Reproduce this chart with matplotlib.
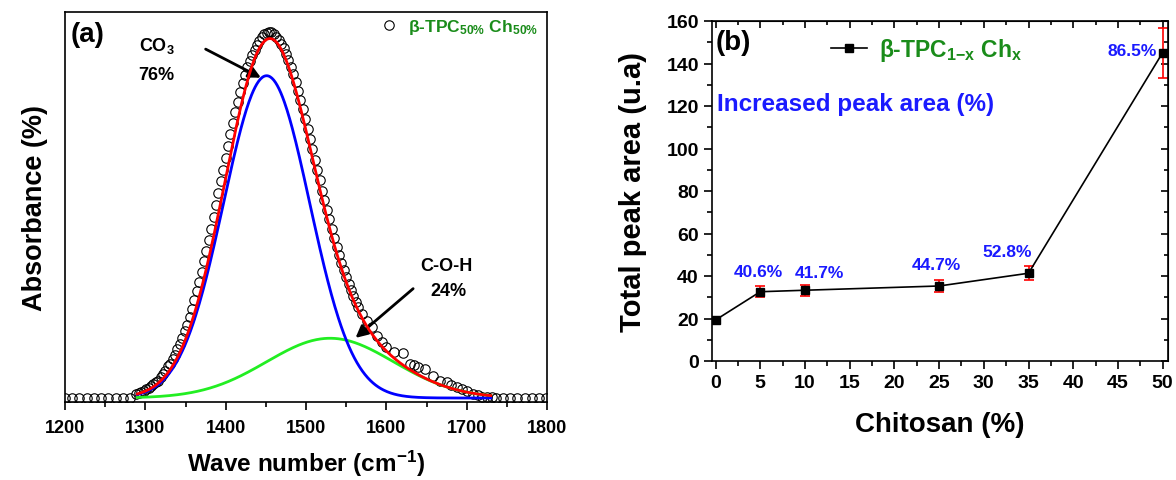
import numpy as np
import matplotlib
matplotlib.use("Agg")
import matplotlib.pyplot as plt
from matplotlib.ticker import MultipleLocator
from matplotlib.lines import Line2D

plt.rcParams['font.family'] = ['Liberation Sans', 'DejaVu Sans']
plt.rcParams['font.weight'] = 'bold'
plt.rcParams['axes.labelweight'] = 'bold'
plt.rcParams['mathtext.fontset'] = 'custom'
plt.rcParams['mathtext.rm'] = 'Liberation Sans:bold'
plt.rcParams['mathtext.bf'] = 'Liberation Sans:bold'
plt.rcParams['mathtext.it'] = 'Liberation Sans:bold'
plt.rcParams['mathtext.default'] = 'rm'

# ---- (a) measured band (normalised absorbance) ----
wn_base_left = [1200, 1209, 1218, 1227, 1236, 1245, 1254, 1263, 1272, 1281]
wn_band = np.arange(1289, 1566, 3)
abs_band = [0.010, 0.013, 0.016, 0.020, 0.026, 0.028, 0.033, 0.038, 0.044, 0.047,
            0.057, 0.065, 0.074, 0.088, 0.095, 0.107, 0.120, 0.134, 0.149, 0.166,
            0.184, 0.203, 0.225, 0.247, 0.270, 0.295, 0.321, 0.348, 0.377, 0.406,
            0.437, 0.468, 0.500, 0.533, 0.565, 0.598, 0.631, 0.664, 0.697, 0.728,
            0.759, 0.789, 0.817, 0.844, 0.869, 0.892, 0.913, 0.932, 0.948, 0.962,
            0.975, 0.987, 0.997, 1.004, 1.009, 1.012, 1.010, 1.005, 0.997, 0.988,
            0.978, 0.966, 0.951, 0.934, 0.915, 0.894, 0.872, 0.849, 0.824, 0.798,
            0.771, 0.743, 0.715, 0.687, 0.658, 0.630, 0.601, 0.573, 0.546, 0.519,
            0.493, 0.467, 0.442, 0.418, 0.396, 0.374, 0.353, 0.334, 0.316, 0.299,
            0.281, 0.266, 0.251]
wn_tail = [1570, 1576, 1582, 1589, 1595, 1600, 1610, 1621, 1629, 1635, 1640, 1648,
           1658, 1667, 1675, 1681, 1688, 1694, 1700, 1708, 1714, 1719, 1725, 1731]
abs_tail = [0.232, 0.212, 0.195, 0.172, 0.155, 0.140, 0.128, 0.125, 0.095, 0.090,
            0.085, 0.079, 0.062, 0.048, 0.043, 0.036, 0.030, 0.025, 0.020, 0.012,
            0.007, 0.003, 0.002, 0.002]
wn_base_right = [1737, 1745, 1754, 1763, 1772, 1781, 1790, 1799]

# gaussian fit components: centre, height, sigma
co3_fit = (1451, 0.89, 53.5)
coh_fit = (1530, 0.165, 79)
fit_start, fit_end = 1290, 1730

# ---- (b) total peak area ----
chitosan = [0, 5, 10, 25, 35, 50]
peak_area = [19.3, 32.6, 33.3, 35.3, 41.3, 145.1]
peak_err = [1.3, 2.6, 2.7, 2.7, 3.4, 11.8]
increase = ['', '40.6%', '41.7%', '44.7%', '52.8%', '86.5%']
label_off = [(0, 0), (-2, 20), (14, 18), (-3, 21), (-21, 22), (-6, 2)]
label_ha = ['center', 'center', 'center', 'center', 'center', 'right']


def gauss(x, p):
    c, h, s = p
    return h * np.exp(-(x - c) ** 2 / (2 * s ** 2))


fig = plt.figure(figsize=(11.76, 4.81), dpi=100)

# ================= panel (a) =================
ax = fig.add_axes([65 / 1176, 78 / 481, 482 / 1176, 390 / 481])
wn_all = np.concatenate([wn_base_left, wn_band, wn_tail, wn_base_right])
abs_all = np.concatenate([np.zeros(len(wn_base_left)), abs_band, abs_tail,
                          np.zeros(len(wn_base_right))])
ax.plot(wn_all, abs_all, 'o', mfc='none', mec='black', ms=6.8, mew=0.8,
        label=r'β-TPC$_{50\%}$ Ch$_{50\%}$', zorder=2)

xf = np.linspace(fit_start, fit_end, 400)
ax.plot(xf, gauss(xf, coh_fit), color='#22ee22', lw=2, zorder=3)
ax.plot(xf, gauss(xf, co3_fit), color='#0000ff', lw=2, zorder=4)
ax.plot(xf, gauss(xf, co3_fit) + gauss(xf, coh_fit), color='#ff0000', lw=2, zorder=5)

ax.set_xlim(1200, 1800)
ax.set_ylim(-0.011, 1.066)
ax.xaxis.set_major_locator(MultipleLocator(100))
ax.xaxis.set_minor_locator(MultipleLocator(50))
ax.set_yticks([])
ax.tick_params(axis='x', which='major', direction='out', length=6, width=1.2,
               labelsize=13, pad=6)
ax.tick_params(axis='x', which='minor', direction='out', length=3.5, width=1.2)
for sp in ax.spines.values():
    sp.set_linewidth(1.2)
ax.set_xlabel('Wave number (cm$^{-1}$)', fontsize=17.5, labelpad=9)
ax.set_ylabel('Absorbance (%)', fontsize=19.5, labelpad=12)

ax.text(0.012, 0.944, '(a)', transform=ax.transAxes, fontsize=20,
        ha='left', va='center')
ax.text(1314, 0.975, 'CO$_3$', fontsize=13, ha='center', va='center')
ax.text(1314, 0.893, '76%', fontsize=13, ha='center', va='center')
ax.annotate('', xy=(1447, 0.881), xytext=(1372, 0.967),
            arrowprops=dict(arrowstyle='-|>', color='black', lw=2, mutation_scale=18))
ax.text(1675, 0.366, 'C-O-H', fontsize=13, ha='center', va='center')
ax.text(1677, 0.298, '24%', fontsize=13, ha='center', va='center')
ax.annotate('', xy=(1559, 0.161), xytext=(1636, 0.307),
            arrowprops=dict(arrowstyle='-|>', color='black', lw=2, mutation_scale=18))

leg = ax.legend(loc='center left', bbox_to_anchor=(0.64, 0.962), frameon=False,
                fontsize=12.5, handlelength=0.8, handletextpad=0.7, borderpad=0)
for t in leg.get_texts():
    t.set_color('#1a8c1a')

# ================= panel (b) =================
bx = fig.add_axes([712 / 1176, 119 / 481, 456 / 1176, 340 / 481])
bx.errorbar(chitosan, peak_area, yerr=peak_err, fmt='none', ecolor='red',
            elinewidth=1.2, capsize=3.5, capthick=1.2, zorder=2)
bx.plot(chitosan, peak_area, '-s', color='black', lw=1.2, ms=5.5, zorder=3)
for xv, yv, lab, off, ha in zip(chitosan, peak_area, increase, label_off, label_ha):
    if lab:
        bx.annotate(lab, xy=(xv, yv), xytext=off, textcoords='offset pixels',
                    ha=ha, va='center', fontsize=12.5, color='#1a1aff')

bx.set_xlim(-0.4, 50.6)
bx.set_ylim(0, 160)
bx.xaxis.set_major_locator(MultipleLocator(5))
bx.xaxis.set_minor_locator(MultipleLocator(2.5))
bx.yaxis.set_major_locator(MultipleLocator(20))
bx.yaxis.set_minor_locator(MultipleLocator(10))
bx.tick_params(which='major', direction='out', length=6, width=1.2, labelsize=14)
bx.tick_params(which='minor', direction='out', length=3.5, width=1.2)
for sp in bx.spines.values():
    sp.set_linewidth(1.2)

# mirrored inward ticks on top and right
top = bx.secondary_xaxis('top')
top.xaxis.set_major_locator(MultipleLocator(5))
top.xaxis.set_minor_locator(MultipleLocator(2.5))
top.tick_params(which='major', direction='in', length=5, width=1.2, labeltop=False)
top.tick_params(which='minor', direction='in', length=3, width=1.2)
right = bx.secondary_yaxis('right')
right.yaxis.set_major_locator(MultipleLocator(20))
right.yaxis.set_minor_locator(MultipleLocator(10))
right.tick_params(which='major', direction='in', length=5, width=1.2, labelright=False)
right.tick_params(which='minor', direction='in', length=3, width=1.2)

bx.set_xlabel('Chitosan (%)', fontsize=20, labelpad=14)
bx.set_ylabel('Total peak area (u.a)', fontsize=21, labelpad=14)

bx.text(0.007, 0.938, '(b)', transform=bx.transAxes, fontsize=20,
        ha='left', va='center')
bx.text(0.2, 121, 'Increased peak area (%)', fontsize=17.5, color='#1a1aff',
        ha='left', va='center')
handle = Line2D([], [], color='black', lw=1.2, marker='s', ms=5.5)
leg_b = bx.legend([handle], ['β-TPC$_{1{-}x}$ Ch$_{x}$'], loc='center left',
                  bbox_to_anchor=(0.235, 0.915), frameon=False, fontsize=16.5,
                  handlelength=1.6, handletextpad=0.5, borderpad=0)
for t in leg_b.get_texts():
    t.set_color('#1a8c1a')

fig.savefig('out.png', dpi=100)
